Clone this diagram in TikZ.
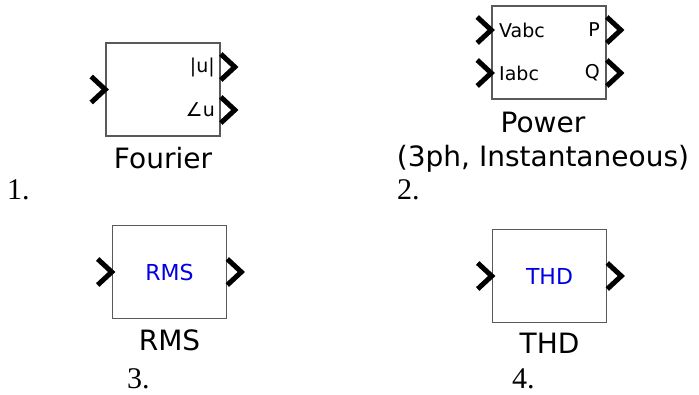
\documentclass[tikz,border=0pt]{standalone}
\usepackage{fontspec}
\setmainfont{Liberation Serif}
\newfontfamily\blockfont{DejaVu Sans}
\usetikzlibrary{positioning}

\begin{document}
\begin{tikzpicture}[x=1pt, y=-1pt,
    node distance=10pt,
    block/.style={rectangle, draw=black!65, line width=1.6pt, minimum width=114pt, minimum height=93pt, inner sep=0pt},
    blockname/.style={font=\blockfont\fontsize{28}{34}\selectfont, inner sep=0pt, align=center},
    portname/.style={font=\blockfont\fontsize{19}{22}\selectfont, inner sep=0pt},
    inside/.style={font=\blockfont\fontsize{22}{24}\selectfont, text=blue!90!black, inner sep=0pt},
    number/.style={font=\fontsize{30}{33}\selectfont, inner sep=0pt, anchor=base west},
    chev/.style={line width=5pt, line join=miter},
    inport/.pic={\draw[chev] (-14,-13) -- (0,0) -- (-14,13);},
    outport/.pic={\draw[chev] (0,-13) -- (14,0) -- (0,13);}
]
\useasboundingbox (0,0) rectangle (699,394);

% Fourier
\node[block] (fourier) at (163,89.5) {};
\node[portname, anchor=east] (mag) at (215,67) {|u|};
\node[portname, anchor=east] (ang) at (215,110) {∠u};
\node[blockname, below=of fourier] (fourierlbl) {Fourier};
\pic at (fourier.west) {inport};
\pic at (fourier.east |- mag) {outport};
\pic at (fourier.east |- ang) {outport};

% Power (3ph, Instantaneous)
\node[block] (power) at (549,52.5) {};
\node[portname, anchor=west] (vabc) at (499,30) {Vabc};
\node[portname, anchor=west] (iabc) at (499,73) {Iabc};
\node[portname, anchor=east] (pout) at (600,30) {P};
\node[portname, anchor=east] (qout) at (600,73) {Q};
\node[blockname, below=12pt of power, xshift=-6pt] (powerlbl) {Power\\(3ph, Instantaneous)};
\pic at (power.west |- vabc) {inport};
\pic at (power.west |- iabc) {inport};
\pic at (power.east |- pout) {outport};
\pic at (power.east |- qout) {outport};

% RMS
\node[block] (rms) at (169.5,272) {};
\node[inside] (rmstxt) at (rms.center) {RMS};
\node[blockname, below=of rms] (rmslbl) {RMS};
\pic at (rms.west) {inport};
\pic at (rms.east) {outport};

% THD
\node[block] (thd) at (549.5,276) {};
\node[inside] (thdtxt) at (thd.center) {THD};
\node[blockname, below=of thd] (thdlbl) {THD};
\pic at (thd.west) {inport};
\pic at (thd.east) {outport};

% numbering
\node[number] (n1) at (7,199) {1.};
\node[number] (n2) at (397,199) {2.};
\node[number] (n3) at (127,388) {3.};
\node[number] (n4) at (512,388) {4.};
\end{tikzpicture}
\end{document}
